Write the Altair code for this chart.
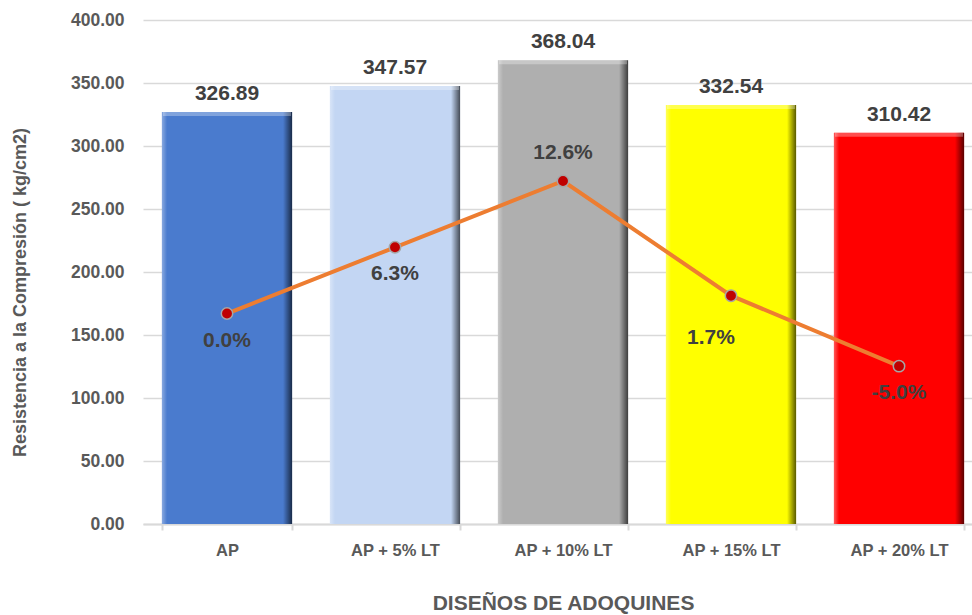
import altair as alt
import pandas as pd

# Compressive strength of paver designs (kg/cm2) and change vs. the base mix (%)
disenos = ["AP", "AP + 5% LT", "AP + 10% LT", "AP + 15% LT", "AP + 20% LT"]
resistencia = [326.89, 347.57, 368.04, 332.54, 310.42]
variacion = [0.0, 6.3, 12.6, 1.7, -5.0]
colores = ["#4A7BCE", "#C3D6F3", "#AFAFAF", "#FFFF00", "#FF0000"]

df = pd.DataFrame({
    "diseno": disenos,
    "resistencia": resistencia,
    "variacion": variacion,
    "color": colores,
    "etiqueta_pct": [f"{v:.1f}%" for v in variacion],
})

FONT = "Liberation Sans"
GRAY = "#595959"
DARK = "#404040"

PLOT_W = 829      # visible plot width
BAND_RANGE = 840  # category axis runs slightly past the right edge

x = alt.X(
    "diseno:N",
    sort=disenos,
    scale=alt.Scale(paddingInner=0.225, paddingOuter=0.1125, range=[0, BAND_RANGE]),
    axis=alt.Axis(
        title="DISEÑOS DE ADOQUINES",
        titleFontSize=21,
        titleFont=FONT,
        titleFontWeight="bold",
        titleColor=GRAY,
        titleY=79,
        titleX=BAND_RANGE / 2,
        titleBaseline="middle",
        labelAngle=0,
        labelFont=FONT,
        labelFontSize=16.5,
        labelFontWeight="bold",
        labelColor=GRAY,
        labelPadding=12,
        tickBand="extent",
        tickSize=6,
        tickColor="#D9D9D9",
        tickWidth=2,
        domainColor="#D9D9D9",
        domainWidth=2,
        grid=False,
    ),
)

y_bar = alt.Y(
    "resistencia:Q",
    scale=alt.Scale(domain=[0, 400]),
    axis=alt.Axis(
        title="Resistencia a la Compresión ( kg/cm2)",
        titleFont=FONT,
        titleFontSize=18,
        titleFontWeight="bold",
        titleColor=GRAY,
        titleX=-123,
        titleY=272,
        titleAlign="center",
        titleBaseline="middle",
        values=[0, 50, 100, 150, 200, 250, 300, 350, 400],
        format=".2f",
        labelFont=FONT,
        labelFontSize=17.5,
        labelFontWeight="bold",
        labelColor=GRAY,
        labelPadding=19,
        ticks=False,
        domain=False,
        grid=True,
        gridColor="#D9D9D9",
        gridWidth=1.5,
    ),
)

base = alt.Chart(df).encode(x=x)

bars = base.mark_bar().encode(
    y=y_bar,
    color=alt.Color("color:N", scale=None),
)

# Bevel shading: light left edge, dark right edge
bevel = base.mark_bar(
    color=alt.LinearGradient(
        gradient="linear",
        x1=0, x2=1, y1=0, y2=0,
        stops=[
            alt.GradientStop(color="rgba(255,255,255,0.35)", offset=0),
            alt.GradientStop(color="rgba(255,255,255,0)", offset=0.04),
            alt.GradientStop(color="rgba(0,0,0,0)", offset=0.93),
            alt.GradientStop(color="rgba(0,0,0,0.65)", offset=1),
        ],
    )
).encode(y=alt.Y("resistencia:Q"))

# Light top bevel
top_edge = base.mark_tick(
    size=128, thickness=4, yOffset=2, color="white", opacity=0.3
).encode(y=alt.Y("resistencia:Q"))

bar_labels = base.mark_text(
    font=FONT, fontSize=21, fontWeight="bold", color=DARK, dy=-12, baseline="alphabetic"
).encode(y=alt.Y("resistencia:Q"), text=alt.Text("resistencia:Q", format=".2f"))

bar_layer = alt.layer(bars, bevel, top_edge, bar_labels)

y_pct = alt.Y("variacion:Q", scale=alt.Scale(domain=[-20, 27.9]), axis=None)

line = base.mark_line(color="#ED7D31", strokeWidth=4).encode(y=y_pct)
points = base.mark_point(
    filled=True, fill="#C00000", stroke="#A6A6A6", strokeWidth=1.5, size=130, opacity=1
).encode(y=y_pct)

pct_below = base.transform_filter(
    alt.FieldOneOfPredicate(field="diseno", oneOf=["AP", "AP + 5% LT", "AP + 20% LT"])
).mark_text(font=FONT, fontSize=21, fontWeight="bold", color=DARK, dy=27).encode(
    y=y_pct, text="etiqueta_pct:N"
)
pct_above = base.transform_filter(
    alt.FieldEqualPredicate(field="diseno", equal="AP + 10% LT")
).mark_text(font=FONT, fontSize=21, fontWeight="bold", color=DARK, dy=-28).encode(
    y=y_pct, text="etiqueta_pct:N"
)
pct_side = base.transform_filter(
    alt.FieldEqualPredicate(field="diseno", equal="AP + 15% LT")
).mark_text(font=FONT, fontSize=21, fontWeight="bold", color=DARK, dy=42, dx=-20).encode(
    y=y_pct, text="etiqueta_pct:N"
)

line_layer = alt.layer(line, points, pct_below, pct_above, pct_side)

chart = (
    alt.layer(bar_layer, line_layer)
    .resolve_scale(y="independent")
    .properties(
        width=PLOT_W,
        height=504,
        autosize=alt.AutoSizeParams(type="none"),
        padding={"left": 143, "top": 20, "right": 0, "bottom": 91},
        background="white",
    )
    .configure_view(stroke=None)
)

chart.save("out.html", embed_options={"renderer": "svg", "actions": False})
